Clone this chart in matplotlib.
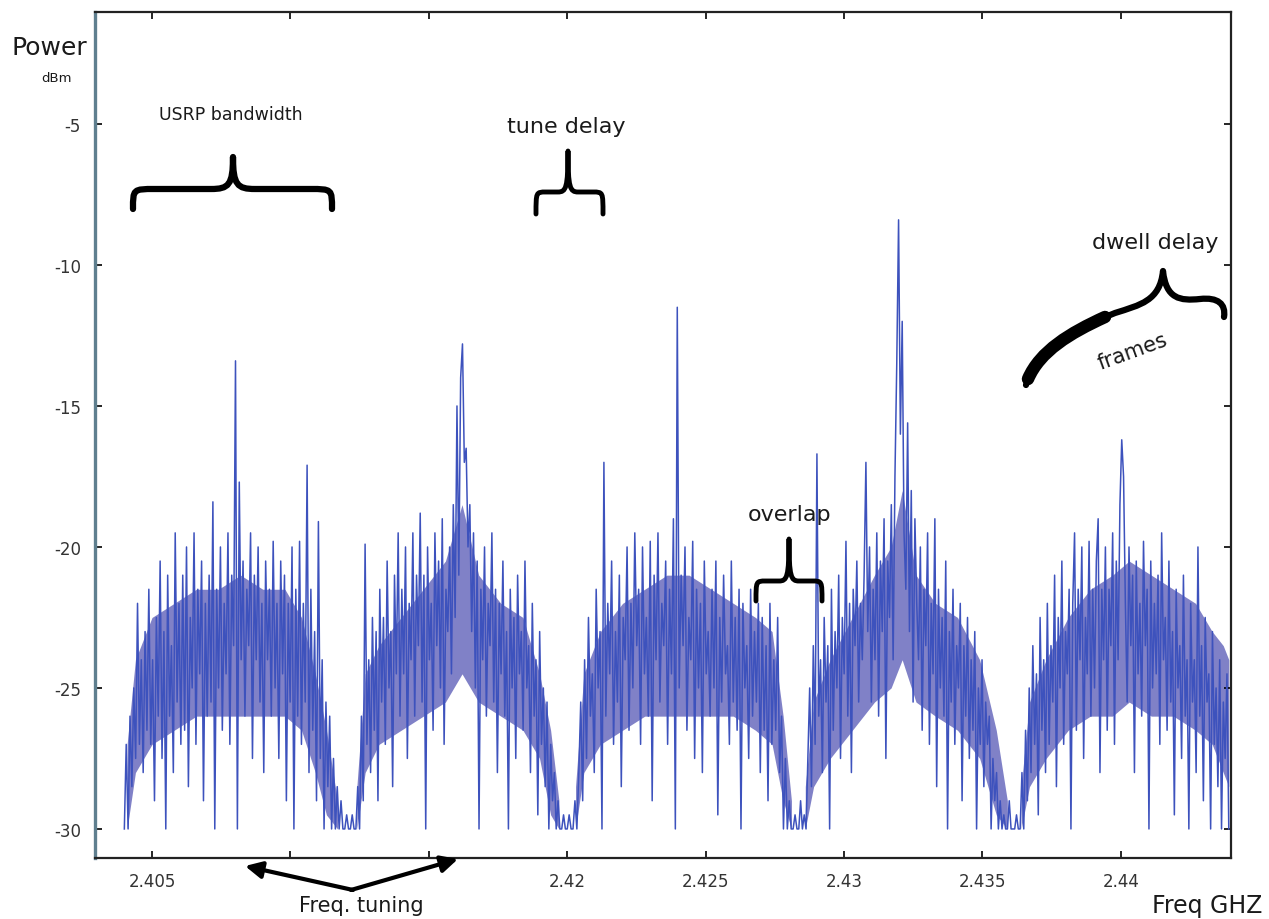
import numpy as np
import matplotlib
matplotlib.use("Agg")
import matplotlib.pyplot as plt
from matplotlib.path import Path
from matplotlib.patches import PathPatch

plt.rcParams['axes.unicode_minus'] = False

# Frecuencias de inicio/fin de cada trama (GHz)
seg_start = [2.4040, 2.4121, 2.4200, 2.4283, 2.4361]
seg_end = [2.4121, 2.4200, 2.4283, 2.4361, 2.4439]

# Potencia (dBm), 120 muestras por trama
seg1 = [-30, -27, -30, -26, -28.5, -25, -27.5, -22, -27, -24,
        -28, -23, -26.5, -21.5, -27, -24, -29, -22.5, -26, -20.5,
        -27.5, -23, -30, -21, -26, -23.5, -28, -19.5, -25.5, -22,
        -27, -21, -26.5, -20, -28.5, -22.5, -25, -19.5, -27, -21.5,
        -24.5, -20.5, -29, -22, -26, -21, -25.5, -18.4, -30, -21.5,
        -25, -20, -26.5, -22, -24.5, -19.5, -27, -21, -23.5, -13.4,
        -30, -17.7, -24, -20.5, -26, -21.5, -23.5, -19.5, -27.5, -21,
        -24, -20, -25.5, -22, -28, -20.5, -24, -21.5, -26, -19.8,
        -25, -22, -27.5, -20.5, -24.5, -21, -29, -22, -25.5, -20,
        -30, -21.5, -26, -19.8, -27, -22, -25.5, -17.1, -28, -21.5,
        -26.5, -23, -29, -19.1, -27.5, -24, -30, -25.5, -28.5, -26,
        -30, -27.5, -30, -28.5, -30, -29, -30, -30, -29.5, -30]
seg2 = [-30, -30, -29.5, -30, -30, -28.5, -30, -26, -29, -19.9,
        -27, -24, -28, -22.5, -26.5, -23, -29, -21.5, -25.5, -22.5,
        -27, -20.5, -25, -23, -28.5, -21, -24.5, -19.5, -26, -21.5,
        -24.5, -20, -27.5, -22, -24, -19.5, -26, -21, -23.5, -18.8,
        -25.5, -21, -30, -20, -24, -22, -26.5, -19.5, -23.5, -20.5,
        -25, -19, -27, -21.5, -23, -20, -24.5, -18.5, -22.5, -15,
        -21, -14, -12.8, -17, -16.5, -20, -18.5, -23, -19.5, -25,
        -20.5, -30, -21.5, -24, -20, -26, -22, -23.5, -19.5, -25.5,
        -21.5, -28, -22, -24.5, -20.5, -26, -23, -30, -21.5, -25,
        -22.5, -27.5, -21, -24.5, -23, -26.5, -20.5, -25, -23.5, -28,
        -22, -26, -24, -29.5, -23, -27, -25, -28.5, -25.5, -30,
        -27, -29, -28, -30, -29, -30, -30, -29.5, -30, -30]
seg3 = [-30, -29.5, -30, -30, -29, -30, -28, -25.5, -29, -24,
        -27.5, -22.5, -26, -24.5, -28, -21.5, -25, -23, -30, -17,
        -26, -22, -24.5, -20.5, -27, -23, -25.5, -21, -28.5, -22.5,
        -24, -20, -26.5, -22, -25, -19.5, -23.5, -21.5, -27, -20,
        -24.5, -22.5, -26, -19.8, -29, -21, -24, -19.5, -25.5, -22,
        -23.5, -20.5, -27, -21.5, -24.5, -19, -30, -11.5, -25, -21,
        -23.5, -20, -26.5, -22.5, -24, -19.8, -27.5, -21.5, -25, -22,
        -28, -20.5, -24.5, -23, -26, -21.5, -25, -20.5, -29.5, -22.5,
        -25.5, -21, -24.5, -23.5, -27, -20.5, -25.5, -22.5, -26.5, -21.5,
        -30, -22, -25, -23.5, -27.5, -21.5, -26, -23, -25.5, -22,
        -28, -22.5, -26.5, -23.5, -29, -22, -27, -24, -26.5, -22.5,
        -28, -26, -30, -27.5, -30, -29, -30, -30, -29.5, -30]
seg4 = [-30, -30, -29, -30, -29.5, -30, -27.5, -25, -28.5, -23.5,
        -27, -16.7, -26, -24, -28, -22.5, -25.5, -23.5, -30, -21.5,
        -26.5, -23, -25, -21, -27.5, -22.5, -24.5, -19.8, -26, -22,
        -28, -21.5, -23.5, -20.5, -25.5, -22, -24, -21, -17, -23,
        -20, -25.5, -21.5, -24, -19.5, -26, -20.5, -23, -19, -27.5,
        -20.5, -22.5, -18.5, -24, -17.5, -13.5, -8.4, -16, -12, -19.5,
        -21.5, -15.6, -23, -18, -25.5, -19, -22, -24, -20, -26.5,
        -21.5, -23.5, -19.5, -27, -22, -24.5, -19, -28.5, -21.5, -25,
        -22.5, -26, -20.5, -30, -23, -25.5, -21.5, -27, -23.5, -25,
        -22, -29, -23.5, -26, -22.5, -27.5, -24, -26.5, -23, -30,
        -25, -27, -24, -28.5, -25.5, -27, -26, -30, -27.5, -29,
        -28, -30, -29, -30, -29.5, -30, -30, -29, -30, -30]
seg5 = [-30, -30, -29.5, -30, -30, -28, -30, -26.5, -29, -25,
        -28, -23.5, -27, -24.5, -29.5, -22.5, -26.5, -24, -28, -22,
        -27, -23.5, -25.5, -21, -28.5, -22.5, -25, -20.5, -27, -23,
        -24.5, -21.5, -30, -22, -19.5, -26.5, -21.5, -24, -20, -27.5,
        -22.5, -24.5, -19.8, -26, -21.5, -25, -20.5, -19, -28, -21.5,
        -24, -20, -26.5, -21.5, -23.5, -19.5, -27, -20.5, -24, -18.5,
        -16.2, -17.5, -22, -25.5, -20, -23.5, -21, -28, -20.5, -24.5,
        -22, -26, -19.8, -23.5, -21.5, -30, -20.5, -25, -22, -24.5,
        -21, -27, -19.5, -24, -22.5, -26.5, -20.5, -25.5, -23, -29.5,
        -21.5, -25, -23.5, -27.5, -21, -26, -24, -30, -22, -25.5,
        -24, -28, -20, -26, -23.5, -29, -22.5, -25.5, -24.5, -30,
        -23, -27, -25, -28.5, -24, -30, -25.5, -27.5, -24.5, -30]

# Banda densa (nucleo) de cada trama: frecuencia, limite inferior y superior (dBm)
core1_x = [2.4041, 2.4044, 2.4050, 2.4058, 2.4066, 2.4074, 2.4082, 2.4090, 2.4098, 2.4104, 2.4109, 2.4113, 2.4117]
core1_lo = [-30, -28, -27, -26.5, -26, -26, -26, -26, -26, -26.5, -28, -29.5, -30]
core1_hi = [-27, -24, -22.5, -22, -21.5, -21.5, -21, -21.5, -21.5, -22.5, -24.5, -26.5, -29]
core2_x = [2.4124, 2.4127, 2.4132, 2.4140, 2.4148, 2.4156, 2.4162, 2.4168, 2.4176, 2.4184, 2.4190, 2.4194, 2.4197]
core2_lo = [-30, -28, -27, -26.5, -26, -25.5, -24.5, -25.5, -26, -26.5, -27.5, -29.5, -30]
core2_hi = [-28.5, -24.5, -23.5, -22.5, -21.5, -20.5, -18.5, -21, -22, -22.5, -24.5, -26.5, -29]
core3_x = [2.4203, 2.4206, 2.4212, 2.4220, 2.4228, 2.4236, 2.4244, 2.4252, 2.4260, 2.4268, 2.4274, 2.4278, 2.4281]
core3_lo = [-30, -28, -27, -26.5, -26, -26, -26, -26, -26, -26.5, -27, -29, -30]
core3_hi = [-28.5, -24.5, -23, -22, -21.5, -21, -21, -21.5, -22, -22.5, -23, -26, -29]
core4_x = [2.4286, 2.4289, 2.4295, 2.4303, 2.4311, 2.4317, 2.4321, 2.4326, 2.4333, 2.4341, 2.4349, 2.4355, 2.4359]
core4_lo = [-30, -28.5, -27.5, -26.5, -25.5, -25, -24, -25.5, -26, -26.5, -27.5, -29.5, -30]
core4_hi = [-28.5, -25.5, -24, -22.5, -21, -20, -18, -21, -22, -22.5, -24, -26.5, -29]
core5_x = [2.4364, 2.4367, 2.4373, 2.4381, 2.4389, 2.4397, 2.4403, 2.4411, 2.4419, 2.4427, 2.4433, 2.4437, 2.4439]
core5_lo = [-30, -28.5, -27.5, -26.5, -26, -26, -25.5, -26, -26, -26.5, -27, -28, -28.5]
core5_hi = [-28.5, -25.5, -24, -22.5, -21.5, -21, -20.5, -21, -21.5, -22, -23, -23.5, -24]

xticks = [2.405, 2.41, 2.415, 2.42, 2.425, 2.43, 2.435, 2.44]
xtick_labels = ['2.405', '', '', '2.42', '2.425', '2.43', '2.435', '2.44']
yticks = [-5, -10, -15, -20, -25, -30]

segs = [seg1, seg2, seg3, seg4, seg5]
freq = np.concatenate([np.linspace(a, b, len(s)) for a, b, s in zip(seg_start, seg_end, segs)])
power = np.concatenate(segs)

fig = plt.figure(figsize=(12.69, 9.2), dpi=100)
ax = fig.add_axes([95 / 1269, 1 - 859 / 920, (1231 - 95) / 1269, (859 - 13) / 920])
for cx, lo, hi in [(core1_x, core1_lo, core1_hi), (core2_x, core2_lo, core2_hi),
                   (core3_x, core3_lo, core3_hi), (core4_x, core4_lo, core4_hi),
                   (core5_x, core5_lo, core5_hi)]:
    ax.fill_between(cx, lo, hi, color='#4a4cb0', lw=0, alpha=0.7)
ax.plot(freq, power, color='#3d52bd', lw=1.1)
ax.set_xlim(2.40294, 2.44398)
ax.set_ylim(-31.03, -1.03)
ax.set_xticks(xticks)
ax.set_xticklabels(xtick_labels)
ax.set_yticks(yticks)
ax.tick_params(direction='in', length=5, width=1.2, top=True, right=True,
               labelsize=12, labelcolor='#333333', pad=10)
for side in ['top', 'bottom', 'right']:
    ax.spines[side].set_color('#222222')
    ax.spines[side].set_linewidth(1.6)
ax.spines['left'].set_color('#5f7f8f')
ax.spines['left'].set_linewidth(2.4)

# capa de anotaciones en pixeles
ov = fig.add_axes([0, 0, 1, 1], facecolor='none')
ov.set_xlim(0, 1269)
ov.set_ylim(920, 0)
ov.axis('off')


def llave(x0, x1, xt, y_end, y_bar, y_tip, lw):
    r = min((x1 - x0) * 0.15, 22)
    verts = [(x0, y_end), (x0, y_bar), (x0, y_bar), (x0 + r, y_bar),
             (xt - r, y_bar),
             (xt - r * 0.2, y_bar), (xt, y_bar - 4), (xt, y_tip),
             (xt, y_bar - 4), (xt + r * 0.2, y_bar), (xt + r, y_bar),
             (x1 - r, y_bar),
             (x1, y_bar), (x1, y_bar), (x1, y_end)]
    codes = [Path.MOVETO, Path.CURVE4, Path.CURVE4, Path.CURVE4,
             Path.LINETO,
             Path.CURVE4, Path.CURVE4, Path.CURVE4,
             Path.CURVE4, Path.CURVE4, Path.CURVE4,
             Path.LINETO,
             Path.CURVE4, Path.CURVE4, Path.CURVE4]
    ov.add_patch(PathPatch(Path(verts, codes), fill=False, lw=lw,
                           edgecolor='black', capstyle='round', joinstyle='round'))


llave(133, 332, 233, 210, 190, 158, 4.5)
llave(536, 603, 568, 215, 193, 152, 3.5)
llave(756, 822, 789, 602, 582, 540, 3.5)

# llave inclinada de "dwell delay"
verts = [(1026, 386), (1035, 355), (1075, 330), (1115, 314),
         (1140, 306), (1160, 302), (1163, 272),
         (1166, 300), (1180, 302), (1200, 300),
         (1218, 298), (1226, 305), (1224, 318)]
codes = [Path.MOVETO] + [Path.CURVE4] * 12
ov.add_patch(PathPatch(Path(verts, codes), fill=False, lw=4.5, edgecolor='black',
                       capstyle='round', joinstyle='round'))
verts = [(1028, 380), (1040, 352), (1070, 334), (1105, 318)]
ov.add_patch(PathPatch(Path(verts, [Path.MOVETO] + [Path.CURVE4] * 3), fill=False,
                       lw=9, edgecolor='black', capstyle='round'))

tc = '#1a1a1a'
ov.text(12, 48, 'Power', fontsize=18, color=tc, ha='left', va='center')
ov.text(56, 79, 'dBm', fontsize=9.5, color=tc, ha='center', va='center')
ov.text(231, 115, 'USRP bandwidth', fontsize=12.5, color=tc, ha='center', va='center')
ov.text(566, 127, 'tune delay', fontsize=16, color=tc, ha='center', va='center')
ov.text(790, 515, 'overlap', fontsize=16, color=tc, ha='center', va='center')
ov.text(1155, 243, 'dwell delay', fontsize=16, color=tc, ha='center', va='center')
ov.text(1133, 352, 'frames', fontsize=15, color=tc, ha='center', va='center', rotation=20)
ov.text(361, 906, 'Freq. tuning', fontsize=15, color=tc, ha='center', va='center')
ov.text(1262, 906, 'Freq GHZ', fontsize=17, color=tc, ha='right', va='center')

ov.annotate('', xy=(245, 867), xytext=(353, 891),
            arrowprops=dict(arrowstyle='-|>,head_length=1.0,head_width=0.5', lw=3, color='black',
                            shrinkA=0, shrinkB=0))
ov.annotate('', xy=(458, 860), xytext=(351, 891),
            arrowprops=dict(arrowstyle='-|>,head_length=1.0,head_width=0.5', lw=3, color='black',
                            shrinkA=0, shrinkB=0))

fig.savefig('out.png', dpi=100)
